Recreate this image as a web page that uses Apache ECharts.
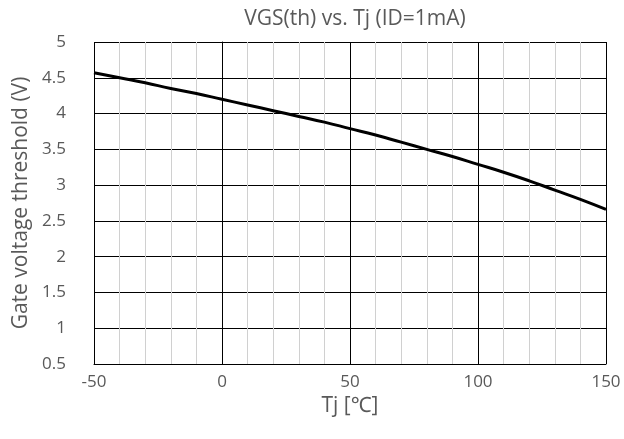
<!DOCTYPE html>
<html>
<head>
<meta charset="utf-8">
<script src="https://cdn.jsdelivr.net/npm/echarts@6/dist/echarts.min.js"></script>
<style>
  html, body { margin: 0; padding: 0; background: #fff; }
  #chart { width: 624px; height: 439px; }
</style>
</head>
<body>
<div id="chart"></div>
<script>
// Tj (°C) and threshold voltage
const tj = [-50, -40, -30, -20, -10, 0, 10, 20, 30, 40, 50, 60, 70, 80, 90, 100, 110, 120, 130, 140, 150]
const vgsTh = [4.57, 4.50, 4.43, 4.35, 4.28, 4.20, 4.12, 4.04, 3.96, 3.88, 3.79, 3.70, 3.60, 3.50, 3.40, 3.29, 3.18, 3.06, 2.93, 2.80, 2.66]

const font = '"Open Sans", "Noto Sans", sans-serif'
const gray = '#595959'

const chart = echarts.init(document.getElementById('chart'), null, { renderer: 'canvas' })

chart.setOption({
  animation: false,
  title: {
    text: 'VGS(th) vs. Tj (ID=1mA)',
    left: 350,
    textAlign: 'center',
    top: 4,
    textStyle: { fontFamily: font, fontSize: 21, fontWeight: 'normal', color: gray }
  },
  grid: { left: 94, right: 18, top: 42, bottom: 75 },
  xAxis: {
    type: 'value',
    min: -50,
    max: 150,
    interval: 50,
    name: 'Tj [℃]',
    nameLocation: 'middle',
    nameGap: 32,
    nameTextStyle: { fontFamily: font, fontSize: 21, color: gray },
    axisLine: { show: true, lineStyle: { color: '#000', width: 1 } },
    axisTick: { show: false },
    axisLabel: { fontFamily: font, fontSize: 17, color: gray, margin: 10 },
    splitLine: { show: true, lineStyle: { color: '#000', width: 1 } },
    minorTick: { show: false, splitNumber: 5 },
    minorSplitLine: { show: true, lineStyle: { color: '#d0d0d0', width: 1 } }
  },
  yAxis: {
    type: 'value',
    min: 0.5,
    max: 5,
    interval: 0.5,
    name: 'Gate voltage threshold (V)',
    nameLocation: 'middle',
    nameGap: 60,
    nameTextStyle: { fontFamily: font, fontSize: 21, color: gray },
    axisLine: { show: true, lineStyle: { color: '#000', width: 1 } },
    axisTick: { show: false },
    axisLabel: { fontFamily: font, fontSize: 17, color: gray, margin: 28 },
    splitLine: { show: true, lineStyle: { color: '#000', width: 1 } }
  },
  series: [
    {
      type: 'line',
      data: tj.map((t, i) => [t, vgsTh[i]]),
      smooth: true,
      showSymbol: false,
      lineStyle: { color: '#000', width: 3 }
    }
  ]
})
</script>
</body>
</html>
